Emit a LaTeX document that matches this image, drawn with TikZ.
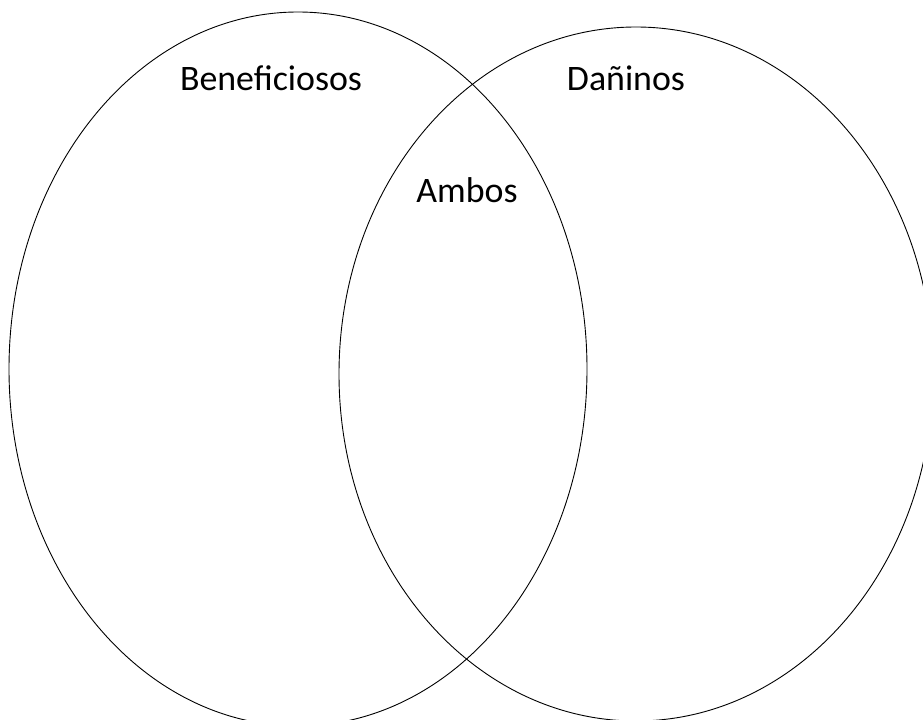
\documentclass[tikz,border=0pt]{standalone}
\usepackage{fontspec}
\setmainfont{Carlito}
\usepackage{tikz}

\begin{document}
\begin{tikzpicture}[
  x=1bp, y=-1bp,
  set/.style={draw=black, line width=0.9bp},
  lbl/.style={font=\fontsize{36}{40}\selectfont, inner sep=0pt, text=black}]

\useasboundingbox (0,0) rectangle (923,720);
\clip (0,0) rectangle (923,720);

% ---------------- the two sets -------------------------------------------
\draw[set] (298,369) ellipse [x radius=289, y radius=357];
\draw[set] (636,374) ellipse [x radius=297, y radius=347];

% ---------------- labels -------------------------------------------------
\node[lbl] (benef) at (271,78) {Beneficiosos};
\node[lbl] (danin) at (626,78) {Dañinos};
\node[lbl] (ambos) at (467,190) {Ambos};
\end{tikzpicture}
\end{document}
